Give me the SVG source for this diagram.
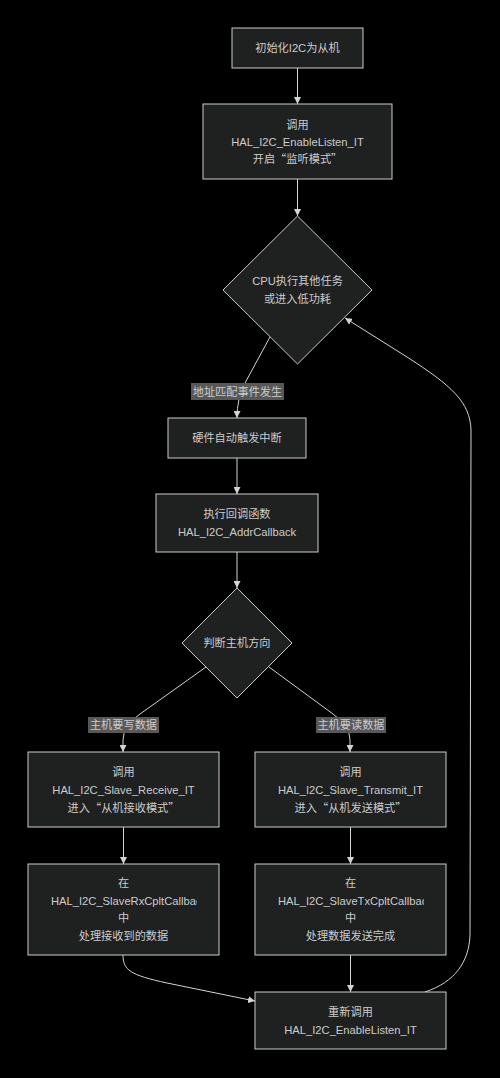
<svg xmlns="http://www.w3.org/2000/svg" width="500" height="1078" viewBox="0 0 500 1078">
<style>
.bg{fill:#000}
.n{fill:#1f2020;stroke:#cccccc;stroke-width:1}
.t{font-family:"Liberation Sans","Noto Sans CJK SC",sans-serif;font-size:11.2px;fill:#cccccc;text-anchor:middle}
.ts{font-family:"Liberation Sans","Noto Sans CJK SC",sans-serif;font-size:11.2px;fill:#cccccc;text-anchor:start}
.q{font-family:"Noto Sans CJK SC",sans-serif}
.e{fill:none;stroke:#d3d3d3;stroke-width:1}
.lb{fill:#585858}
.lt{font-family:"Liberation Sans","Noto Sans CJK SC",sans-serif;font-size:11.2px;fill:#cccccc;text-anchor:middle}
</style>
<defs>
<marker id="arr" viewBox="0 0 10 10" refX="10" refY="5" markerWidth="7" markerHeight="7" orient="auto" markerUnits="userSpaceOnUse">
<path d="M0,0 L10,5 L0,10 z" fill="#d3d3d3"/>
</marker>
<clipPath id="cL"><rect x="28" y="864" width="169" height="91"/></clipPath>
<clipPath id="cR"><rect x="255" y="864" width="169" height="91"/></clipPath>
</defs>
<rect class="bg" x="0" y="0" width="500" height="1078"/>
<g id="edges">
<path class="e" d="M297.5,68 L297.5,104" marker-end="url(#arr)"/>
<path class="e" d="M297.5,179 L297.5,216" marker-end="url(#arr)"/>
<path class="e" d="M270,337 L245,383 Q237,398 237,418" marker-end="url(#arr)"/>
<path class="e" d="M237,458 L237,494" marker-end="url(#arr)"/>
<path class="e" d="M237,552 L237,588" marker-end="url(#arr)"/>
<path class="e" d="M206,667 L140,714 Q123,726 123,740 L123,752" marker-end="url(#arr)"/>
<path class="e" d="M269,667 L333,714 Q350,726 350,740 L350,752" marker-end="url(#arr)"/>
<path class="e" d="M123.5,827 L123.5,864" marker-end="url(#arr)"/>
<path class="e" d="M350.5,827 L350.5,864" marker-end="url(#arr)"/>
<path class="e" d="M123,955 C123,970 130,975 167,983 L255,1001" marker-end="url(#arr)"/>
<path class="e" d="M350.5,955 L350.5,992" marker-end="url(#arr)"/>
<path class="e" d="M425,992 C455,982 469,962 470,935 L471,430 C470,402 452,386 407,357 L345,318" marker-end="url(#arr)"/>
<rect class="lb" x="191" y="383" width="93" height="17"/>
<text class="lt" x="237.5" y="395.5">地址匹配事件发生</text>
<rect class="lb" x="88" y="717" width="71" height="16"/>
<text class="lt" x="123.5" y="729">主机要写数据</text>
<rect class="lb" x="316" y="717" width="70" height="16"/>
<text class="lt" x="351" y="729">主机要读数据</text>
</g>
<g id="init">
<rect class="n" x="232" y="28" width="131" height="40"/>
<text class="t" x="297.5" y="52">初始化I2C为从机</text>
</g>
<g id="listen">
<rect class="n" x="203" y="104" width="189" height="75"/>
<text class="t" x="297.5" y="129">调用</text>
<text class="t" x="297.5" y="146">HAL_I2C_EnableListen_IT</text>
<text class="t" x="297.5" y="163">开启<tspan class="q">“</tspan>监听模式<tspan class="q">”</tspan></text>
</g>
<g id="cpu">
<polygon class="n" points="297.5,216 372,290 297.5,364 223,290"/>
<text class="t" x="297.5" y="285">CPU执行其他任务</text>
<text class="t" x="297.5" y="303">或进入低功耗</text>
</g>
<g id="irq">
<rect class="n" x="168" y="418" width="138" height="40"/>
<text class="t" x="237" y="442">硬件自动触发中断</text>
</g>
<g id="addrcb">
<rect class="n" x="156" y="494" width="162" height="58"/>
<text class="t" x="237" y="518">执行回调函数</text>
<text class="t" x="237" y="536">HAL_I2C_AddrCallback</text>
</g>
<g id="dir">
<polygon class="n" points="237,588 292,643 237,698 182,643"/>
<text class="t" x="237" y="647">判断主机方向</text>
</g>
<g id="rx">
<rect class="n" x="28" y="752" width="191" height="75"/>
<text class="t" x="123.5" y="776">调用</text>
<text class="t" x="123.5" y="794">HAL_I2C_Slave_Receive_IT</text>
<text class="t" x="123.5" y="812">进入<tspan class="q">“</tspan>从机接收模式<tspan class="q">”</tspan></text>
</g>
<g id="tx">
<rect class="n" x="255" y="752" width="191" height="75"/>
<text class="t" x="350.5" y="776">调用</text>
<text class="t" x="350.5" y="794">HAL_I2C_Slave_Transmit_IT</text>
<text class="t" x="350.5" y="812">进入<tspan class="q">“</tspan>从机发送模式<tspan class="q">”</tspan></text>
</g>
<g id="rxcb">
<rect class="n" x="28" y="864" width="191" height="91"/>
<text class="t" x="123.5" y="887">在</text>
<text class="ts" x="51" y="905" clip-path="url(#cL)">HAL_I2C_SlaveRxCpltCallbac</text>
<text class="t" x="123.5" y="922">中</text>
<text class="t" x="123.5" y="940">处理接收到的数据</text>
</g>
<g id="txcb">
<rect class="n" x="255" y="864" width="191" height="91"/>
<text class="t" x="350.5" y="887">在</text>
<text class="ts" x="278" y="905" clip-path="url(#cR)">HAL_I2C_SlaveTxCpltCallbac</text>
<text class="t" x="350.5" y="922">中</text>
<text class="t" x="350.5" y="940">处理数据发送完成</text>
</g>
<g id="relisten">
<rect class="n" x="255" y="992" width="191" height="57"/>
<text class="t" x="350.5" y="1016">重新调用</text>
<text class="t" x="350.5" y="1034">HAL_I2C_EnableListen_IT</text>
</g>
</svg>
